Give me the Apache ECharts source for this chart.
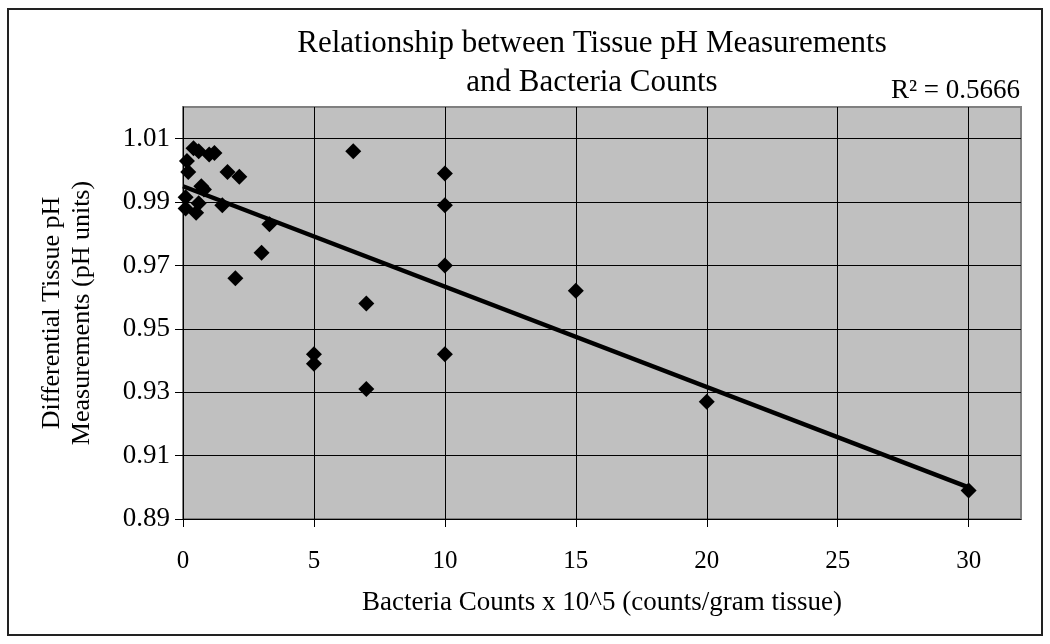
<!DOCTYPE html>
<html>
<head>
<meta charset="utf-8">
<title>Tissue pH vs Bacteria Counts</title>
<script src="https://cdn.jsdelivr.net/npm/echarts@6/dist/echarts.min.js"></script>
<style>
  html, body { margin: 0; padding: 0; background: #fff; }
  #main { width: 1050px; height: 644px; }
</style>
</head>
<body>
<div id="main"></div>
<script>
  // bacteria counts x 10^5 (counts/gram tissue)
  var bacteriaCounts = [30, 20, 15, 10, 10, 10, 10, 6.5, 7, 7, 5, 5, 3.3, 3, 2, 2.15, 1.7, 1.5, 1.2, 1.0, 0.6, 0.4, 0.15, 0.2, 0.1, 0.1, 0.5, 0.6, 0.7, 0.8]
  // differential tissue pH (pH units)
  var tissuePh = [0.899, 0.927, 0.962, 0.999, 0.989, 0.970, 0.942, 1.006, 0.958, 0.931, 0.942, 0.939, 0.983, 0.974, 0.966, 0.998, 0.9995, 0.989, 1.0055, 1.005, 1.006, 1.007, 1.003, 0.9995, 0.9915, 0.988, 0.9866, 0.9896, 0.995, 0.994]
  // linear trendline end points as drawn
  var trendX = [0, 30]
  var trendY = [0.995, 0.900]
  var rSquared = '0.5666'
  // tick labels
  var xTicks = [0, 5, 10, 15, 20, 25, 30]
  var yTicks = [0.89, 0.91, 0.93, 0.95, 0.97, 0.99, 1.01]

  var font = '"Liberation Serif", "Times New Roman", serif'

  var points = []
  for (var i = 0; i < bacteriaCounts.length; i++) {
    points.push([bacteriaCounts[i], tissuePh[i]])
  }
  var trend = []
  for (var j = 0; j < trendX.length; j++) {
    trend.push([trendX[j], trendY[j]])
  }

  var chart = echarts.init(document.getElementById('main'))
  var option = {
    backgroundColor: '#fff',
    animation: false,
    title: {
      text: 'Relationship between Tissue pH Measurements\nand Bacteria Counts',
      left: 587,
      top: 19,
      textAlign: 'center',
      textStyle: {
        fontFamily: font,
        fontWeight: 'normal',
        fontSize: 31,
        lineHeight: 39,
        color: '#000'
      }
    },
    grid: {
      left: 183,
      right: 29,
      top: 107,
      bottom: 125,
      show: true,
      backgroundColor: '#c0c0c0',
      borderColor: '#808080',
      borderWidth: 2
    },
    xAxis: {
      type: 'value',
      min: 0,
      max: 32,
      interval: 5,
      name: 'Bacteria Counts x 10^5 (counts/gram tissue)',
      nameLocation: 'middle',
      nameGap: 70,
      nameTextStyle: { fontFamily: font, fontSize: 27, color: '#000' },
      axisLine: { show: true, lineStyle: { color: '#000', width: 1 } },
      axisTick: { show: true, inside: false, length: 8, lineStyle: { color: '#000' }, customValues: xTicks },
      axisLabel: {
        fontFamily: font, fontSize: 25, color: '#000', margin: 30,
        customValues: xTicks
      },
      splitLine: { show: true, showMinLine: false, lineStyle: { color: '#000', width: 1 } }
    },
    yAxis: {
      type: 'value',
      min: 0.89,
      max: 1.02,
      interval: 0.02,
      name: 'Differential Tissue pH\nMeasurements (pH units)',
      nameLocation: 'middle',
      nameRotate: 90,
      nameGap: 86,
      nameTextStyle: { fontFamily: font, fontSize: 26, lineHeight: 30, color: '#000' },
      axisLine: { show: true, lineStyle: { color: '#000', width: 1 } },
      axisTick: { show: true, inside: false, length: 8, lineStyle: { color: '#000' }, customValues: yTicks },
      axisLabel: {
        fontFamily: font, fontSize: 27, color: '#000', margin: 13,
        customValues: yTicks,
        formatter: function (v) { return v.toFixed(2) }
      },
      splitLine: { show: true, showMinLine: false, lineStyle: { color: '#000', width: 1 } }
    },
    graphic: [
      { // outer chart frame
        type: 'rect',
        shape: { x: 8, y: 9, width: 1034, height: 626 },
        style: { fill: null, stroke: '#222', lineWidth: 2 },
        silent: true
      },
      {
        type: 'text',
        right: 30,
        top: 77,
        style: {
          text: 'R² = ' + rSquared,
          font: '27px ' + font,
          fill: '#000'
        }
      }
    ],
    series: [
      {
        name: 'Linear trend',
        type: 'line',
        data: trend,
        symbol: 'none',
        lineStyle: { color: '#000', width: 4.5 },
        z: 2
      },
      {
        name: 'Tissue pH',
        type: 'scatter',
        data: points,
        symbol: 'diamond',
        symbolSize: 16,
        itemStyle: { color: '#000', opacity: 1 },
        z: 3
      }
    ]
  }
  chart.setOption(option)
</script>
</body>
</html>
